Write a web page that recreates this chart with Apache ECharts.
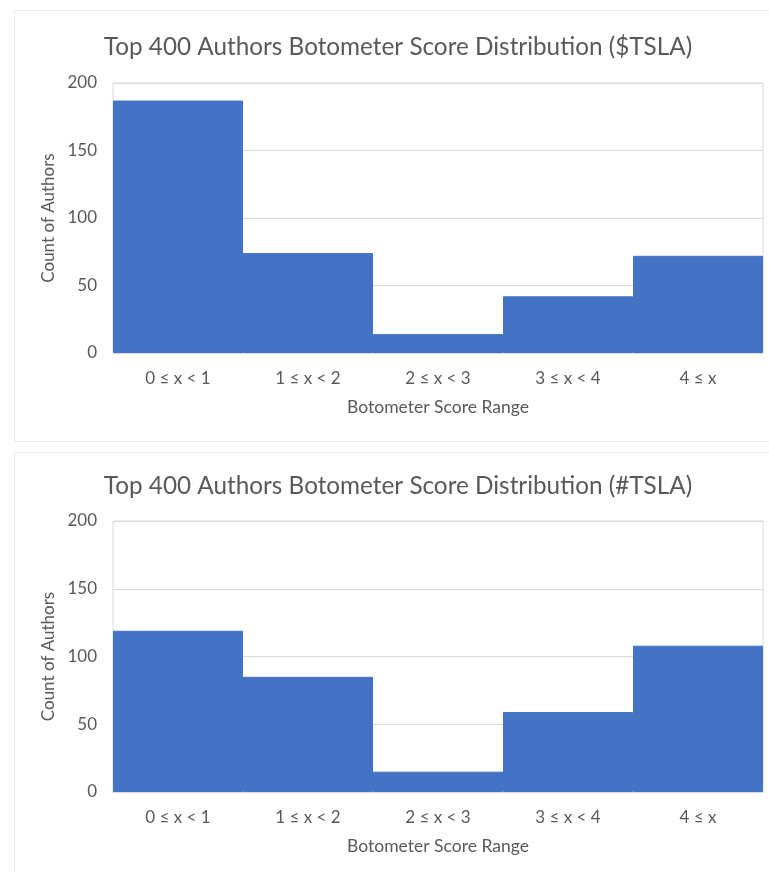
<!DOCTYPE html>
<html>
<head>
<meta charset="utf-8">
<script src="https://cdn.jsdelivr.net/npm/echarts@6/dist/echarts.min.js"></script>
<style>
html,body{margin:0;padding:0;background:#fff;}
#main{width:769px;height:872px;}
</style>
</head>
<body>
<div id="main"></div>
<script>
const categories = ['0 ≤ x < 1', '1 ≤ x < 2', '2 ≤ x < 3', '3 ≤ x < 4', '4 ≤ x'];
const dollarTslaCounts = [187, 74, 14, 42, 72];
const hashTslaCounts = [119, 85, 15, 59, 108];
const yTicks = [0, 50, 100, 150, 200];
const titles = ['Top 400 Authors Botometer Score Distribution ($TSLA)', 'Top 400 Authors Botometer Score Distribution (#TSLA)'];
const xAxisTitle = 'Botometer Score Range';
const yAxisTitle = 'Count of Authors';

const FONT = 'Lato, "Open Sans", sans-serif';
const TXT = '#595959';
const GRID = '#d9d9d9';
const BAR = '#4472C4';

const chart = echarts.init(document.getElementById('main'), null, {renderer: 'canvas'});

const grids = [
  {left: 113, width: 650, top: 83, height: 270, show: true, borderColor: GRID, borderWidth: 1},
  {left: 113, width: 650, top: 521, height: 271, show: true, borderColor: GRID, borderWidth: 1}
];

function xAxis(i) {
  return {
    type: 'category', gridIndex: i, data: categories,
    axisTick: {show: false},
    splitLine: {show: false},
    axisLine: {lineStyle: {color: GRID}},
    axisLabel: {color: TXT, fontFamily: FONT, fontSize: 17, margin: 17},
    name: xAxisTitle, nameLocation: 'middle', nameGap: 45,
    nameTextStyle: {color: TXT, fontFamily: FONT, fontSize: 17.5}
  };
}
function yAxis(i) {
  return {
    type: 'value', gridIndex: i, min: yTicks[0], max: yTicks[yTicks.length - 1], interval: 50,
    axisLine: {show: false}, axisTick: {show: false},
    splitLine: {lineStyle: {color: GRID}},
    axisLabel: {color: TXT, fontFamily: FONT, fontSize: 17, margin: 16},
    name: yAxisTitle, nameLocation: 'middle', nameGap: 53,
    nameTextStyle: {color: TXT, fontFamily: FONT, fontSize: 17}
  };
}

chart.setOption({
  animation: false,
  backgroundColor: '#fff',
  graphic: [
    {type: 'rect', shape: {x: 14.5, y: 10.5, width: 770, height: 431}, style: {fill: 'none', stroke: '#ececec', lineWidth: 1}, silent: true},
    {type: 'rect', shape: {x: 14.5, y: 452.5, width: 770, height: 430}, style: {fill: 'none', stroke: '#ececec', lineWidth: 1}, silent: true}
  ],
  title: [
    {text: titles[0], left: 393, top: 30, textAlign: 'center', textStyle: {color: TXT, fontFamily: FONT, fontSize: 24.3, fontWeight: 'normal'}},
    {text: titles[1], left: 393, top: 469, textAlign: 'center', textStyle: {color: TXT, fontFamily: FONT, fontSize: 24.3, fontWeight: 'normal'}}
  ],
  grid: grids,
  xAxis: [xAxis(0), xAxis(1)],
  yAxis: [yAxis(0), yAxis(1)],
  series: [
    {type: 'bar', xAxisIndex: 0, yAxisIndex: 0, data: dollarTslaCounts, barCategoryGap: '0%', itemStyle: {color: BAR, borderColor: BAR, borderWidth: 1}},
    {type: 'bar', xAxisIndex: 1, yAxisIndex: 1, data: hashTslaCounts, barCategoryGap: '0%', itemStyle: {color: BAR, borderColor: BAR, borderWidth: 1}}
  ]
});
</script>
</body>
</html>
